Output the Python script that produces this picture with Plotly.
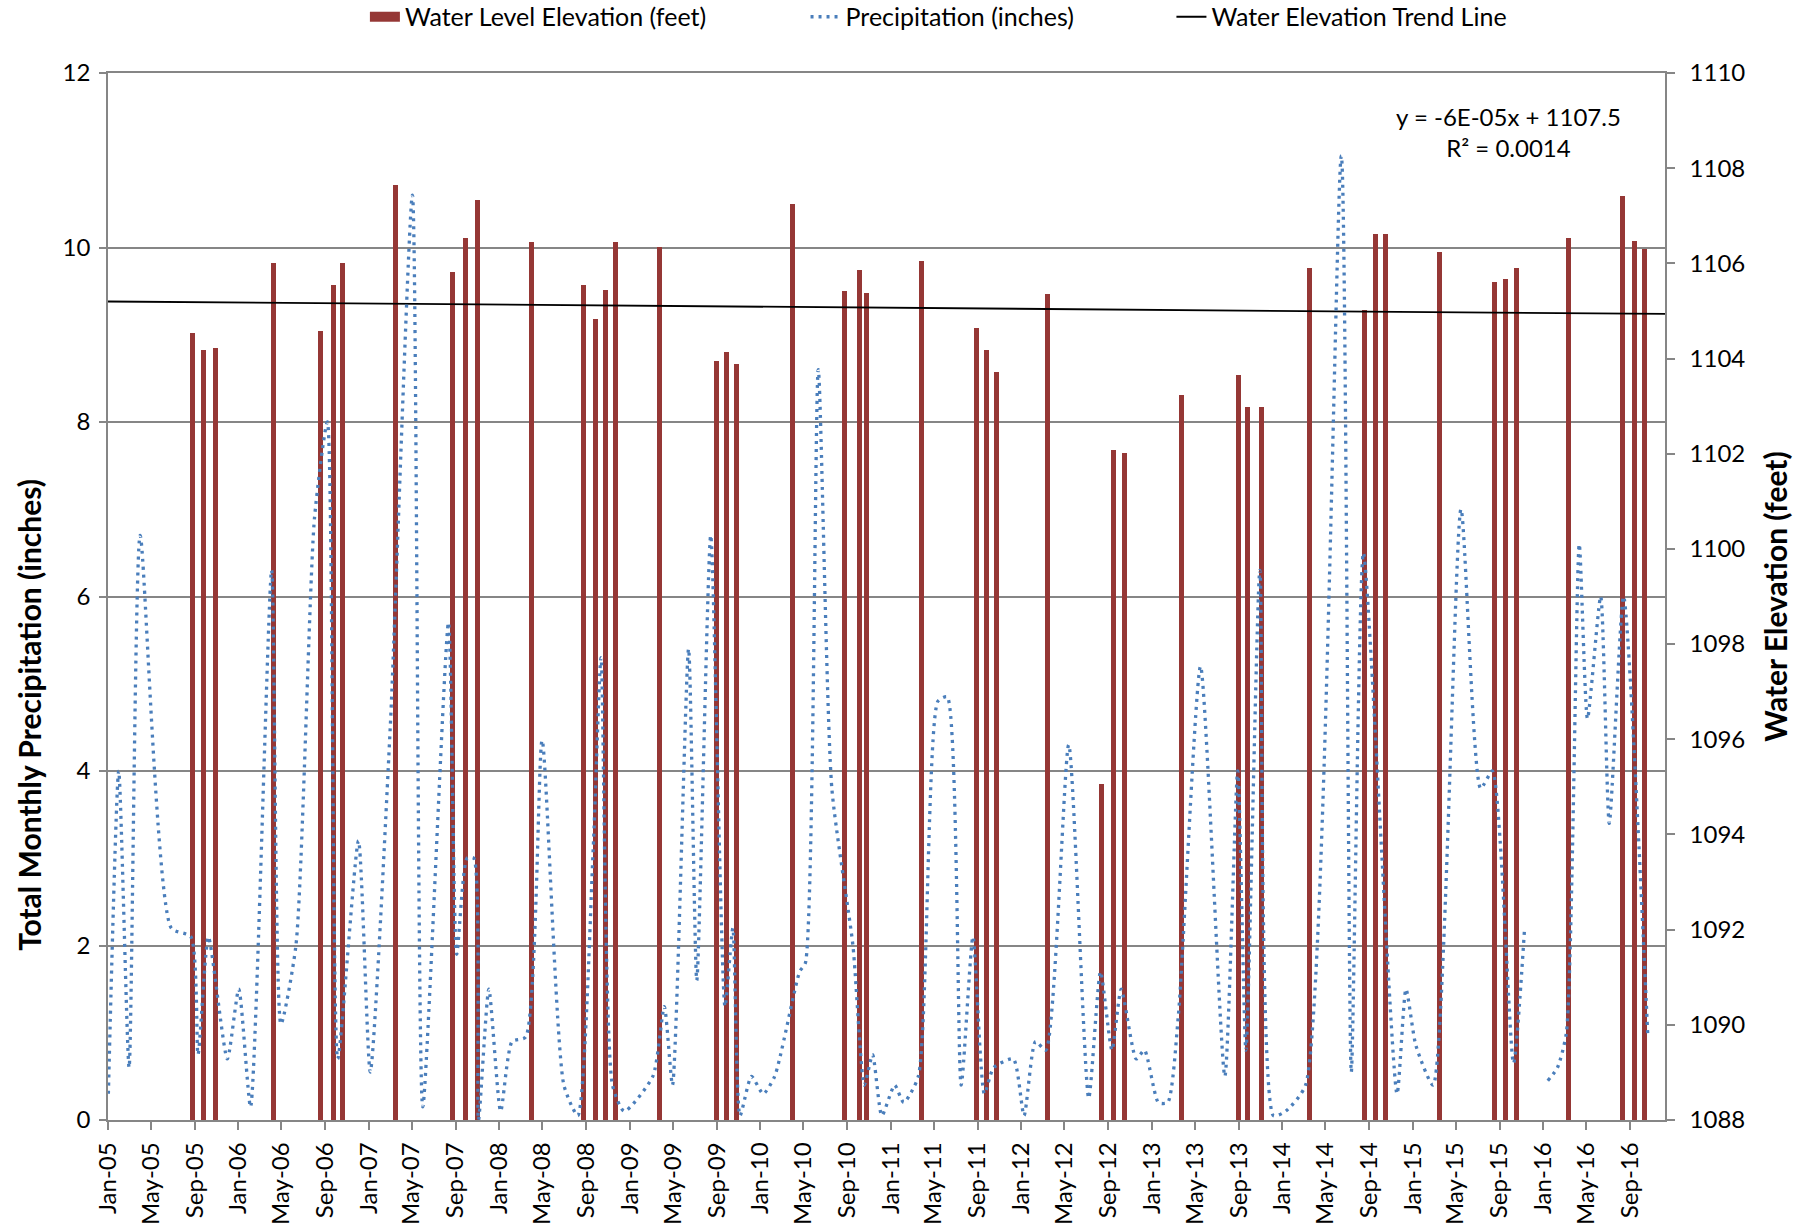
import plotly.graph_objects as go
import pandas as pd

# ---------------- data ----------------
bar_dates = [
    "2005-08-26", "2005-09-25", "2005-10-28", "2006-04-08", "2006-08-18", "2006-09-23",
    "2006-10-20", "2007-03-17", "2007-08-23", "2007-09-29", "2007-11-01", "2008-03-31",
    "2008-08-23", "2008-09-27", "2008-10-25", "2008-11-22", "2009-03-25", "2009-08-31",
    "2009-09-29", "2009-10-25", "2010-03-31", "2010-08-24", "2010-10-05", "2010-10-25",
    "2011-03-27", "2011-08-30", "2011-09-27", "2011-10-25", "2012-03-16", "2012-08-12",
    "2012-09-16", "2012-10-16", "2013-03-26", "2013-08-31", "2013-09-26", "2013-11-03",
    "2014-03-17", "2014-08-18", "2014-09-18", "2014-10-17", "2015-03-18", "2015-08-19",
    "2015-09-18", "2015-10-18", "2016-03-11", "2016-08-11", "2016-09-12", "2016-10-11",
]
water_level_ft = [
    1104.53, 1104.18, 1104.23, 1106.00, 1104.58, 1105.54,
    1106.01, 1107.65, 1105.81, 1106.54, 1107.33, 1106.45,
    1105.54, 1104.84, 1105.44, 1106.45, 1106.35, 1103.95,
    1104.14, 1103.88, 1107.25, 1105.42, 1105.87, 1105.37,
    1106.04, 1104.65, 1104.18, 1103.72, 1105.35, 1095.05,
    1102.07, 1102.02, 1103.24, 1103.65, 1102.99, 1102.98,
    1105.91, 1105.03, 1106.61, 1106.61, 1106.24, 1105.61,
    1105.67, 1105.90, 1106.53, 1107.42, 1106.48, 1106.30,
]

precip_dates = [
    "2005-01-02", "2005-01-31", "2005-03-01", "2005-04-01", "2005-06-27", "2005-08-21",
    "2005-09-10", "2005-10-09", "2005-12-01", "2006-01-02", "2006-02-04", "2006-04-04",
    "2006-04-30", "2006-06-11", "2006-08-02", "2006-09-07", "2006-10-06", "2006-12-03",
    "2007-01-05", "2007-03-02", "2007-05-03", "2007-06-01", "2007-08-12", "2007-09-04",
    "2007-10-03", "2007-10-22", "2007-11-04", "2007-12-03", "2008-01-05", "2008-02-06",
    "2008-03-15", "2008-04-30", "2008-06-30", "2008-08-08", "2008-09-20", "2008-10-12",
    "2008-11-13", "2008-12-16", "2009-03-06", "2009-04-07", "2009-04-30", "2009-06-14",
    "2009-07-07", "2009-08-15", "2009-09-24", "2009-10-16", "2009-11-05", "2009-12-07",
    "2010-01-09", "2010-02-10", "2010-04-21", "2010-05-07", "2010-06-12", "2010-07-20",
    "2010-09-17", "2010-10-19", "2010-11-11", "2010-12-07", "2011-01-12", "2011-02-06",
    "2011-03-19", "2011-05-13", "2011-06-08", "2011-07-17", "2011-08-19", "2011-09-20",
    "2011-10-16", "2011-12-10", "2012-01-09", "2012-02-10", "2012-03-10", "2012-05-13",
    "2012-07-08", "2012-08-10", "2012-09-11", "2012-10-07", "2012-11-18", "2012-12-11",
    "2013-01-19", "2013-02-14", "2013-03-16", "2013-05-17", "2013-07-24", "2013-08-29",
    "2013-09-21", "2013-10-30", "2013-12-07", "2014-01-10", "2014-03-07", "2014-06-15",
    "2014-07-13", "2014-08-16", "2014-11-18", "2014-12-13", "2015-01-10", "2015-02-27",
    "2015-05-16", "2015-07-10", "2015-08-12", "2015-10-10", "2015-11-10", "2015-12-15",
    "2016-01-14", "2016-02-10", "2016-03-06", "2016-04-11", "2016-05-04", "2016-06-10",
    "2016-07-04", "2016-08-13", "2016-10-20",
]
precip_in = [
    0.3, 4.0, 0.6, 6.7, 2.2, 2.1,
    0.75, 2.1, 0.7, 1.5, 0.15, 6.3,
    1.1, 2.0, 6.9, 8.0, 0.7, 3.2,
    0.55, 4.5, 10.6, 0.15, 5.7, 1.9,
    3.0, 3.0, 0.0, 1.5, 0.1, 0.9,
    0.95, 4.35, 0.4, 0.05, 3.1, 5.3,
    0.4, 0.1, 0.5, 1.3, 0.4, 5.4,
    1.6, 6.7, 1.3, 2.2, 0.05, 0.5,
    0.3, 0.5, 1.7, 1.8, 8.6, 3.8,
    2.0, 0.4, 0.75, 0.05, 0.4, 0.2,
    0.5, 4.8, 4.85, 0.4, 2.1, 0.3,
    0.6, 0.7, 0.05, 0.9, 0.8, 4.3,
    0.25, 1.7, 0.8, 1.5, 0.7, 0.8,
    0.2, 0.2, 1.2, 5.2, 0.5, 4.0,
    0.8, 6.3, 0.05, 0.1, 0.4, 11.05,
    0.55, 6.5, 0.3, 1.5, 0.85, 0.4,
    7.0, 3.8, 4.0, 0.65, 2.2, None,
    0.45, 0.6, 1.0, 6.6, 4.6, 6.0,
    3.4, 6.0, 0.95,
]

left_ticks = [0, 2, 4, 6, 8, 10, 12]
right_ticks = [1088, 1090, 1092, 1094, 1096, 1098, 1100, 1102, 1104, 1106, 1108, 1110]

trend_slope = -6e-05      # per Excel date serial (days)
trend_intercept = 1107.5
x_start = "2005-01-01"
x_end = "2016-12-07"

# ---------------- styling ----------------
FONT = "Lato"
BAR_COLOR = "#953735"
LINE_BLUE = "#4A7EBB"
GRID = "#868686"

# trend line evaluated from the displayed regression equation
trend_x = pd.to_datetime([x_start, x_end])
serial = (trend_x - pd.Timestamp("1899-12-30")).days
trend_y = [trend_slope * s + trend_intercept for s in serial]

fig = go.Figure()

# Water level bars (right-hand scale -> primary y)
fig.add_trace(go.Bar(
    x=pd.to_datetime(bar_dates), y=water_level_ft,
    width=14 * 86400000,
    marker=dict(color=BAR_COLOR, line=dict(width=0)),
    yaxis="y", showlegend=False, name="Water Level Elevation (feet)",
))
# legend-only swatch for bars
fig.add_trace(go.Scatter(
    x=[None], y=[None], mode="lines",
    line=dict(color=BAR_COLOR, width=18),
    name="Water Level Elevation (feet)", legend="legend", yaxis="y",
))
# trend line
fig.add_trace(go.Scatter(
    x=trend_x, y=trend_y, mode="lines",
    line=dict(color="black", width=1.8),
    name="Water Elevation Trend Line", legend="legend3", yaxis="y",
))
# precipitation (left-hand scale -> overlaying y2)
fig.add_trace(go.Scatter(
    x=pd.to_datetime(precip_dates), y=precip_in, mode="lines",
    line=dict(color=LINE_BLUE, width=3.3, dash="3px,5px", shape="spline", smoothing=0.6),
    connectgaps=False,
    name="Precipitation (inches)", legend="legend2", yaxis="y2",
))

axis_common = dict(
    showline=True, linecolor=GRID, linewidth=1.5,
    ticks="outside", tickcolor=GRID, tickwidth=1.5,
    zeroline=False, automargin=False,
)
TICKFONT_Y = dict(family=FONT, size=24, color="black")
TICKFONT_X = dict(family=FONT, size=24, color="black")
TITLEFONT = dict(family=FONT, size=30, color="black")
LEGFONT = dict(family=FONT, size=25, color="black")

def leg(xpos):
    return dict(
        orientation="h", x=xpos, xanchor="left", y=1.0535, yanchor="middle",
        font=LEGFONT, bgcolor="rgba(0,0,0,0)", borderwidth=0,
    )

fig.update_layout(
    width=1814, height=1225,
    margin=dict(l=108, r=149, t=73, b=105, autoexpand=False),
    plot_bgcolor="white", paper_bgcolor="white",
    font=dict(family=FONT, color="black"),
    bargap=0,
    xaxis=dict(
        type="date", range=[x_start, x_end],
        tick0="2005-01-01", dtick="M4", tickformat="%b-%y",
        tickangle=-90, ticklen=8, showgrid=False, mirror=True,
        ticklabelstandoff=3, tickfont=TICKFONT_X,
        **axis_common,
    ),
    yaxis=dict(
        side="right", range=[1088, 1110], tickvals=right_ticks,
        showgrid=False, ticklen=8, ticklabelstandoff=10, tickfont=TICKFONT_Y,
        title=dict(text="<b>Water Elevation (feet)</b>", font=TITLEFONT, standoff=22),
        **axis_common,
    ),
    yaxis2=dict(
        side="left", overlaying="y", range=[0, 12], tickvals=left_ticks,
        showgrid=True, gridcolor=GRID, gridwidth=1.5, ticklen=7, ticklabelstandoff=4,
        tickfont=TICKFONT_Y,
        **axis_common,
    ),
    legend=leg(0.165),
    legend2=leg(0.448),
    legend3=leg(0.683),
    annotations=[
        dict(
            x=0.8996, y=0.944, xref="paper", yref="paper", xanchor="center", yanchor="middle",
            text="y = -6E-05x + 1107.5<br>R² = 0.0014",
            showarrow=False, align="center",
            font=dict(family=FONT, size=24, color="black"),
        ),
        dict(
            x=-0.0507, y=0.387, xref="paper", yref="paper", xanchor="center", yanchor="middle",
            text="<b>Total Monthly Precipitation (inches)</b>", textangle=-90,
            showarrow=False, font=TITLEFONT,
        ),
    ],
)

fig.write_html(
    "out.html",
    config={"displayModeBar": False},
    post_script="document.body.style.margin='0';document.body.style.overflow='hidden';",
)
